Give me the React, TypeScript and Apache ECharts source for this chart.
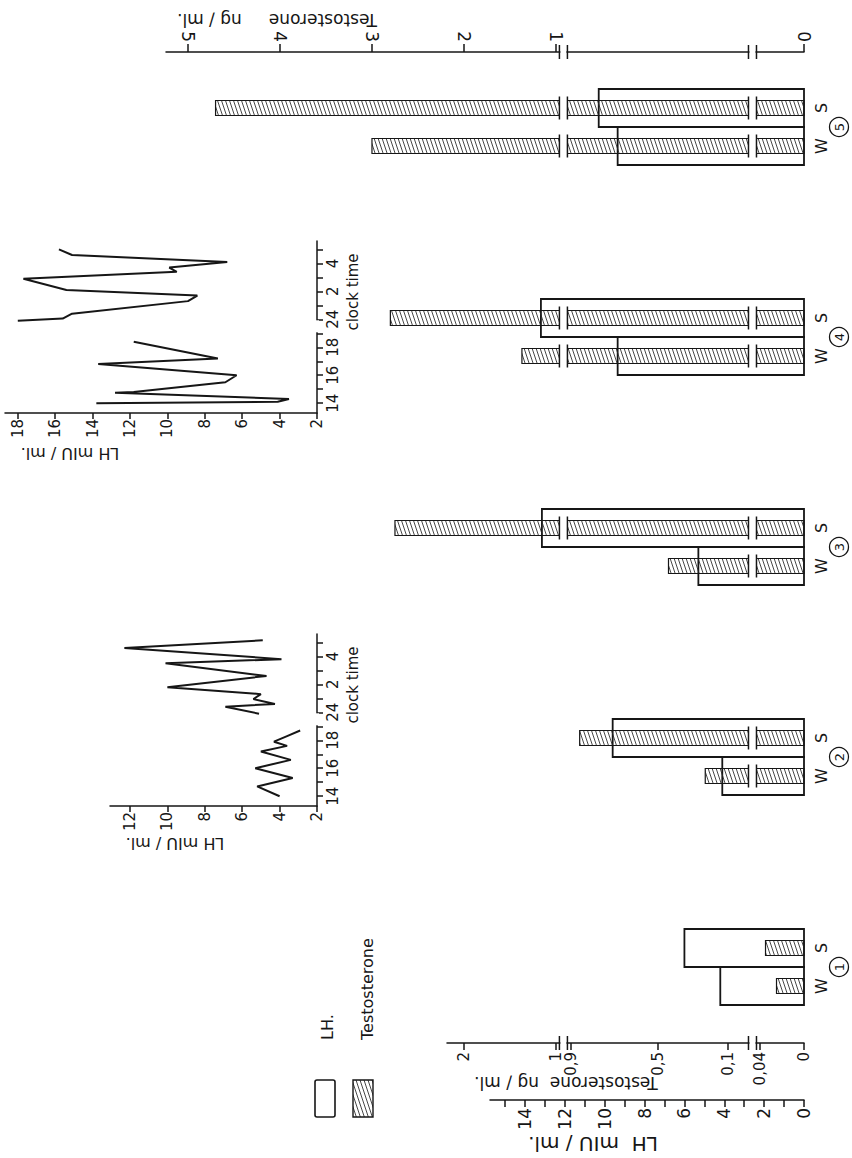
import React, { useEffect, useRef } from "react";
import * as echarts from "echarts";

// ---------------- data ----------------
const groups = ["1", "2", "3", "4", "5"];
// LH (mIU/ml) during wake (W) and sleep (S)
const lhWake = [4.2, 4.1, 5.3, 9.35, 9.35];
const lhSleep = [6.0, 9.6, 13.15, 13.2, 10.3];
// Testosterone (ng/ml) during wake (W) and sleep (S)
const testoWake = [0.025, 0.23, 0.44, 1.37, 3.0];
const testoSleep = [0.035, 0.86, 2.75, 2.8, 4.7];

// tick labels
const testoTopTicks = [0, 1, 2, 3, 4, 5];
const testoLowTicks = [0, 0.04, 0.1, 0.5, 0.9, 1, 2];
const lhLabelTicks = [0, 2, 4, 6, 8, 10, 12, 14];
const lhMinorTicks = [0, 1, 2, 3, 4, 5, 6, 7, 8, 9, 10, 11, 12, 13, 14, 15];

// broken, hand-drawn testosterone scale: value knots -> drawn axis units
const testoKnotValues = [0, 0.04, 0.1, 0.5, 0.9, 1, 5];
const testoKnotUnits = [0, 0.478, 0.826, 1.587, 2.533, 2.696, 6.696];
const testoBreakUnits = [0.56, 2.615];

// insets: LH vs clock time
const insetLhTicks4 = [2, 4, 6, 8, 10, 12, 14, 16, 18];
const insetLhTicks2 = [2, 4, 6, 8, 10, 12];
const clockLabelHours = [14, 16, 18, 24, 26, 28];
const clockLabelText = ["14", "16", "18", "24", "2", "4"];
const clockTickHours = [14, 15, 16, 17, 18, 19, 24, 25, 26, 27, 28, 29];
const clockGapHours = [19, 24];

// [clock hour (24+ = after midnight), LH mIU/ml]
const subj2Day = [
  [14.0, 4.0], [14.7, 5.2], [15.3, 3.3], [16.0, 5.3], [16.6, 3.4],
  [17.2, 5.0], [17.6, 3.6], [17.9, 4.3], [18.3, 3.6], [18.7, 2.9],
];
const subj2Night = [
  [23.9, 5.1], [24.4, 6.9], [24.6, 4.25], [24.95, 5.4], [25.3, 5.0],
  [25.8, 10.0], [26.6, 4.7], [27.5, 10.1], [27.8, 3.9], [28.6, 12.3], [29.15, 4.9],
];
const subj4Day = [
  [14.0, 13.8], [14.1, 4.1], [14.3, 3.5], [14.75, 12.8], [14.8, 11.8],
  [15.5, 6.9], [16.0, 6.3], [16.8, 13.7], [17.2, 7.3], [18.4, 11.8],
];
const subj4Night = [
  [23.9, 18.0], [24.05, 15.6], [24.4, 15.1], [25.3, 8.9], [25.7, 8.4],
  [26.1, 15.4], [26.9, 17.7], [27.4, 9.5], [27.7, 9.9], [28.1, 6.8],
  [28.6, 15.1], [29.0, 15.8],
];

// ---------------- layout / style ----------------
const INK = "#161616";
const FONT = "DejaVu Sans";
const BASE_X = 804;
const LH_PX = 19.93;
const T_PX = 92;
const INSET_LH_PX = 18.7;
const BOX_FRAC = 38 / 210;
const BAR_FRAC = 15 / 210;
const GAP = 4;

const toUnit = (t: number) => {
  for (let i = 1; i < testoKnotValues.length; i++) {
    if (t <= testoKnotValues[i] || i === testoKnotValues.length - 1) {
      const a = testoKnotValues[i - 1], b = testoKnotValues[i];
      const ua = testoKnotUnits[i - 1], ub = testoKnotUnits[i];
      return ua + ((t - a) / (b - a)) * (ub - ua);
    }
  }
  return 0;
};
const toP = (h: number) => (h < 21 ? h - 14 : h - 18);
const fmtNum = (t: number) => String(t).replace(".", ",");
const nearestLabel = (vals: number[], map: (v: number) => number, texts: string[]) => (v: number) => {
  let best = 0, bd = Infinity;
  vals.forEach((t, i) => {
    const d = Math.abs(map(t) - v);
    if (d < bd) { bd = d; best = i; }
  });
  return texts[best];
};

const hatchSvg =
  '<svg xmlns="http://www.w3.org/2000/svg" width="4" height="12">' +
  '<path d="M-4,0 L0,12 M0,0 L4,12 M4,0 L8,12" stroke="#262626" stroke-width="0.85" fill="none"/></svg>';
const hatch: any = {
  type: "pattern",
  image: "data:image/svg+xml;charset=utf-8," + encodeURIComponent(hatchSvg),
  repeat: "repeat",
  imageWidth: 4,
  imageHeight: 12,
};

const txt = (x: number, y: number, text: string, size: number, rotation: number, align = "center", extra: any = {}) => ({
  type: "text",
  x,
  y,
  rotation,
  silent: true,
  style: {
    text,
    fill: INK,
    fontSize: size,
    fontFamily: FONT,
    align,
    verticalAlign: "middle",
    textAlign: align,
    textVerticalAlign: "middle",
    ...extra,
  },
});

const renderLh = (_params: any, api: any) => {
  const gi = api.value(0);
  const lh = api.value(1);
  const sub = api.value(2);
  const base = api.coord([0, gi]);
  const tip = api.coord([lh, gi]);
  const band = api.size([0, 1])[1];
  const h = band * BOX_FRAC;
  const y0 = sub === 1 ? base[1] - h : base[1];
  const children: any[] = [
    {
      type: "rect",
      shape: { x: tip[0], y: y0, width: base[0] - tip[0], height: h },
      style: { fill: "#fff", stroke: INK, lineWidth: 1.8 },
    },
    txt(base[0] + 17, y0 + h / 2, sub === 1 ? "S" : "W", 16, Math.PI / 2),
  ];
  if (sub === 1) {
    children.push({
      type: "circle",
      shape: { cx: base[0] + 35, cy: base[1], r: 9.5 },
      style: { fill: "none", stroke: INK, lineWidth: 1.3 },
    });
    children.push(txt(base[0] + 35, base[1], groups[gi], 13, Math.PI / 2));
  }
  return { type: "group", children };
};

const renderTesto = (_params: any, api: any) => {
  const gi = api.value(0);
  const u = api.value(1);
  const sub = api.value(2);
  const base = api.coord([0, gi]);
  const tip = api.coord([u, gi]);
  const band = api.size([0, 1])[1];
  const cy = base[1] + (sub === 1 ? -1 : 1) * (band * BOX_FRAC) / 2;
  const h = band * BAR_FRAC;
  const children: any[] = [
    {
      type: "rect",
      shape: { x: tip[0], y: cy - h / 2, width: base[0] - tip[0], height: h },
      style: { fill: hatch, stroke: INK, lineWidth: 1.2 },
    },
  ];
  testoBreakUnits.forEach((b) => {
    if (u > b + 0.05) {
      const bx = api.coord([b, gi])[0];
      children.push({
        type: "rect",
        shape: { x: bx - GAP, y: cy - h / 2 - 1, width: 2 * GAP, height: h + 2 },
        style: { fill: "#fff" },
      });
      [-GAP, GAP].forEach((dx) =>
        children.push({
          type: "line",
          shape: { x1: bx + dx, y1: cy - h / 2 - 4, x2: bx + dx, y2: cy + h / 2 + 4 },
          style: { stroke: INK, lineWidth: 1.5 },
        })
      );
    }
  });
  return { type: "group", children };
};

const rulerBreak = (atTop: boolean) => (params: any, api: any) => {
  const cs = params.coordSys;
  const x = api.coord([api.value(0), 0])[0];
  const y = atTop ? cs.y : cs.y + cs.height;
  return {
    type: "group",
    children: [
      { type: "rect", shape: { x: x - GAP + 1, y: y - 3, width: 2 * GAP - 2, height: 6 }, style: { fill: "#fff" } },
      { type: "line", shape: { x1: x - GAP, y1: y - 7, x2: x - GAP, y2: y + 7 }, style: { stroke: INK, lineWidth: 1.5 } },
      { type: "line", shape: { x1: x + GAP, y1: y - 7, x2: x + GAP, y2: y + 7 }, style: { stroke: INK, lineWidth: 1.5 } },
    ],
  };
};

const clockGap = (params: any, api: any) => {
  const cs = params.coordSys;
  const xr = cs.x + cs.width;
  const ya = api.coord([2, toP(clockGapHours[0])])[1];
  const yb = api.coord([2, toP(clockGapHours[1])])[1];
  return {
    type: "rect",
    shape: { x: xr - 3, y: yb + 1, width: 5, height: ya - yb - 2 },
    style: { fill: "#fff" },
  };
};

const axisLineStyle = { show: true, onZero: false, lineStyle: { color: INK, width: 1.5 } };
const tickStyle = { color: INK, width: 1.5 };
const labelBase = { color: INK, fontFamily: FONT, rotate: 90 };

function buildOption(): any {
  const mainWidth = BASE_X - 166;
  const lowTWidth = BASE_X - 447;
  const lhRulerWidth = BASE_X - 490;

  const grid = [
    { left: 166, right: 852 - BASE_X, top: 22, height: 1050 },
    { left: 166, right: 852 - BASE_X, top: 52, height: 1 },
    { left: 447, right: 852 - BASE_X, top: 1042, height: 1 },
    { left: 490, right: 852 - BASE_X, top: 1099, height: 1 },
    { left: 5, right: 535, top: 241, height: 172 },
    { left: 110, right: 535, top: 634, height: 172 },
  ];

  const topLabels = testoTopTicks.map(fmtNum);
  const lowLabels = testoLowTicks.map(fmtNum);

  const xAxis = [
    { gridIndex: 0, type: "value", inverse: true, min: 0, max: mainWidth / LH_PX, show: false },
    { gridIndex: 0, type: "value", inverse: true, min: 0, max: mainWidth / T_PX, show: false },
    {
      gridIndex: 1, type: "value", position: "top", inverse: true, min: 0, max: mainWidth / T_PX,
      axisLine: axisLineStyle,
      axisTick: { show: true, length: 8, customValues: testoTopTicks.map(toUnit), lineStyle: tickStyle },
      axisLabel: { ...labelBase, fontSize: 17, margin: 10, customValues: testoTopTicks.map(toUnit),
        formatter: nearestLabel(testoTopTicks, toUnit, topLabels) },
      splitLine: { show: false },
    },
    {
      gridIndex: 2, type: "value", position: "bottom", inverse: true, min: 0, max: lowTWidth / T_PX,
      axisLine: axisLineStyle,
      axisTick: { show: true, length: 7, customValues: testoLowTicks.map(toUnit), lineStyle: tickStyle },
      axisLabel: { ...labelBase, fontSize: 15, margin: 9, customValues: testoLowTicks.map(toUnit),
        formatter: nearestLabel(testoLowTicks, toUnit, lowLabels) },
      splitLine: { show: false },
    },
    {
      gridIndex: 3, type: "value", position: "bottom", inverse: true, min: 0, max: lhRulerWidth / LH_PX,
      axisLine: axisLineStyle,
      axisTick: { show: true, length: 7, customValues: lhMinorTicks, lineStyle: tickStyle },
      axisLabel: { ...labelBase, fontSize: 17, margin: 8, customValues: lhLabelTicks,
        formatter: (v: number) => String(Math.round(v)) },
      splitLine: { show: false },
    },
    {
      gridIndex: 4, type: "value", position: "bottom", inverse: true, min: 2, max: 2 + 312 / INSET_LH_PX,
      axisLine: axisLineStyle,
      axisTick: { show: true, length: 6, customValues: insetLhTicks4, lineStyle: tickStyle },
      axisLabel: { ...labelBase, fontSize: 15, margin: 6, customValues: insetLhTicks4,
        formatter: (v: number) => String(Math.round(v)) },
      splitLine: { show: false },
    },
    {
      gridIndex: 5, type: "value", position: "bottom", inverse: true, min: 2, max: 2 + 207 / INSET_LH_PX,
      axisLine: axisLineStyle,
      axisTick: { show: true, length: 6, customValues: insetLhTicks2, lineStyle: tickStyle },
      axisLabel: { ...labelBase, fontSize: 15, margin: 6, customValues: insetLhTicks2,
        formatter: (v: number) => String(Math.round(v)) },
      splitLine: { show: false },
    },
  ];

  const clockFormatter = nearestLabel(clockLabelHours, toP, clockLabelText);
  const clockAxis = (gridIndex: number) => ({
    gridIndex, type: "value", position: "right", min: -0.7, max: 11.6,
    axisLine: axisLineStyle,
    axisTick: { show: true, length: 6, customValues: clockTickHours.map(toP), lineStyle: tickStyle },
    axisLabel: { ...labelBase, fontSize: 15, margin: 8, customValues: clockLabelHours.map(toP), formatter: clockFormatter },
    splitLine: { show: false },
  });

  const yAxis = [
    { gridIndex: 0, type: "category", data: groups, show: false },
    { gridIndex: 1, type: "value", min: 0, max: 1, show: false },
    { gridIndex: 2, type: "value", min: 0, max: 1, show: false },
    { gridIndex: 3, type: "value", min: 0, max: 1, show: false },
    clockAxis(4),
    clockAxis(5),
  ];

  const lhData: any[] = [];
  const tData: any[] = [];
  groups.forEach((_g, i) => {
    lhData.push([i, lhWake[i], 0]);
    lhData.push([i, lhSleep[i], 1]);
    tData.push([i, toUnit(testoWake[i]), 0, testoWake[i]]);
    tData.push([i, toUnit(testoSleep[i]), 1, testoSleep[i]]);
  });

  const lineSeries = (xi: number, yi: number, pts: number[][]) => ({
    type: "line",
    xAxisIndex: xi,
    yAxisIndex: yi,
    data: pts.map(([h, v]) => [v, toP(h)]),
    symbol: "none",
    silent: true,
    lineStyle: { color: INK, width: 2 },
  });

  const series = [
    { type: "custom", name: "LH", xAxisIndex: 0, yAxisIndex: 0, renderItem: renderLh, data: lhData, encode: { x: 1, y: 0 }, silent: true },
    { type: "custom", name: "Testosterone", xAxisIndex: 1, yAxisIndex: 0, renderItem: renderTesto, data: tData, encode: { x: 1, y: 0 }, silent: true },
    { type: "custom", xAxisIndex: 2, yAxisIndex: 1, renderItem: rulerBreak(true), data: testoBreakUnits.map((b) => [b, 0]), silent: true, z: 5 },
    { type: "custom", xAxisIndex: 3, yAxisIndex: 2, renderItem: rulerBreak(false), data: testoBreakUnits.map((b) => [b, 0]), silent: true, z: 5 },
    lineSeries(5, 4, subj4Day),
    lineSeries(5, 4, subj4Night),
    lineSeries(6, 5, subj2Day),
    lineSeries(6, 5, subj2Night),
    { type: "custom", xAxisIndex: 5, yAxisIndex: 4, renderItem: clockGap, data: [clockGapHours], silent: true, z: 5 },
    { type: "custom", xAxisIndex: 6, yAxisIndex: 5, renderItem: clockGap, data: [clockGapHours], silent: true, z: 5 },
  ];

  const NB = "\u00a0";
  const graphic = [
    // axis titles
    txt(277, 20, "Testosterone" + NB.repeat(5) + "ng" + NB + "/" + NB + "ml.", 17, Math.PI),
    txt(566, 1083, "Testosterone" + NB.repeat(2) + "ng" + NB + "/" + NB + "ml.", 17, Math.PI),
    txt(593, 1144, "LH" + NB + NB + "mIU" + NB + "/" + NB + "ml.", 20, Math.PI),
    txt(70, 453, "LH" + NB + "mIU" + NB + "/" + NB + "ml.", 16, Math.PI),
    txt(175, 843, "LH" + NB + "mIU" + NB + "/" + NB + "ml.", 16, Math.PI),
    txt(353, 292, "clock time", 15, Math.PI / 2),
    txt(353, 685, "clock time", 15, Math.PI / 2),
    // legend
    { type: "rect", silent: true, shape: { x: 315, y: 1080, width: 20, height: 37, r: 2 }, style: { fill: "#fff", stroke: INK, lineWidth: 1.6 } },
    { type: "rect", silent: true, shape: { x: 353, y: 1080, width: 20, height: 37 }, style: { fill: hatch, stroke: INK, lineWidth: 1.4 } },
    txt(327, 1040, "LH.", 16, Math.PI / 2, "left"),
    txt(367, 1040, "Testosterone", 16, Math.PI / 2, "left"),
  ];

  return {
    animation: false,
    backgroundColor: "#fff",
    grid,
    xAxis,
    yAxis,
    series,
    graphic,
  };
}

export default function App() {
  const ref = useRef<HTMLDivElement>(null);
  useEffect(() => {
    if (!ref.current) return;
    const chart = echarts.init(ref.current, null, { renderer: "svg" });
    chart.setOption(buildOption());
    return () => chart.dispose();
  }, []);
  return (
    <div
      ref={ref}
      style={{ position: "absolute", left: 0, top: 0, width: 852, height: 1158, background: "#fff" }}
    />
  );
}
